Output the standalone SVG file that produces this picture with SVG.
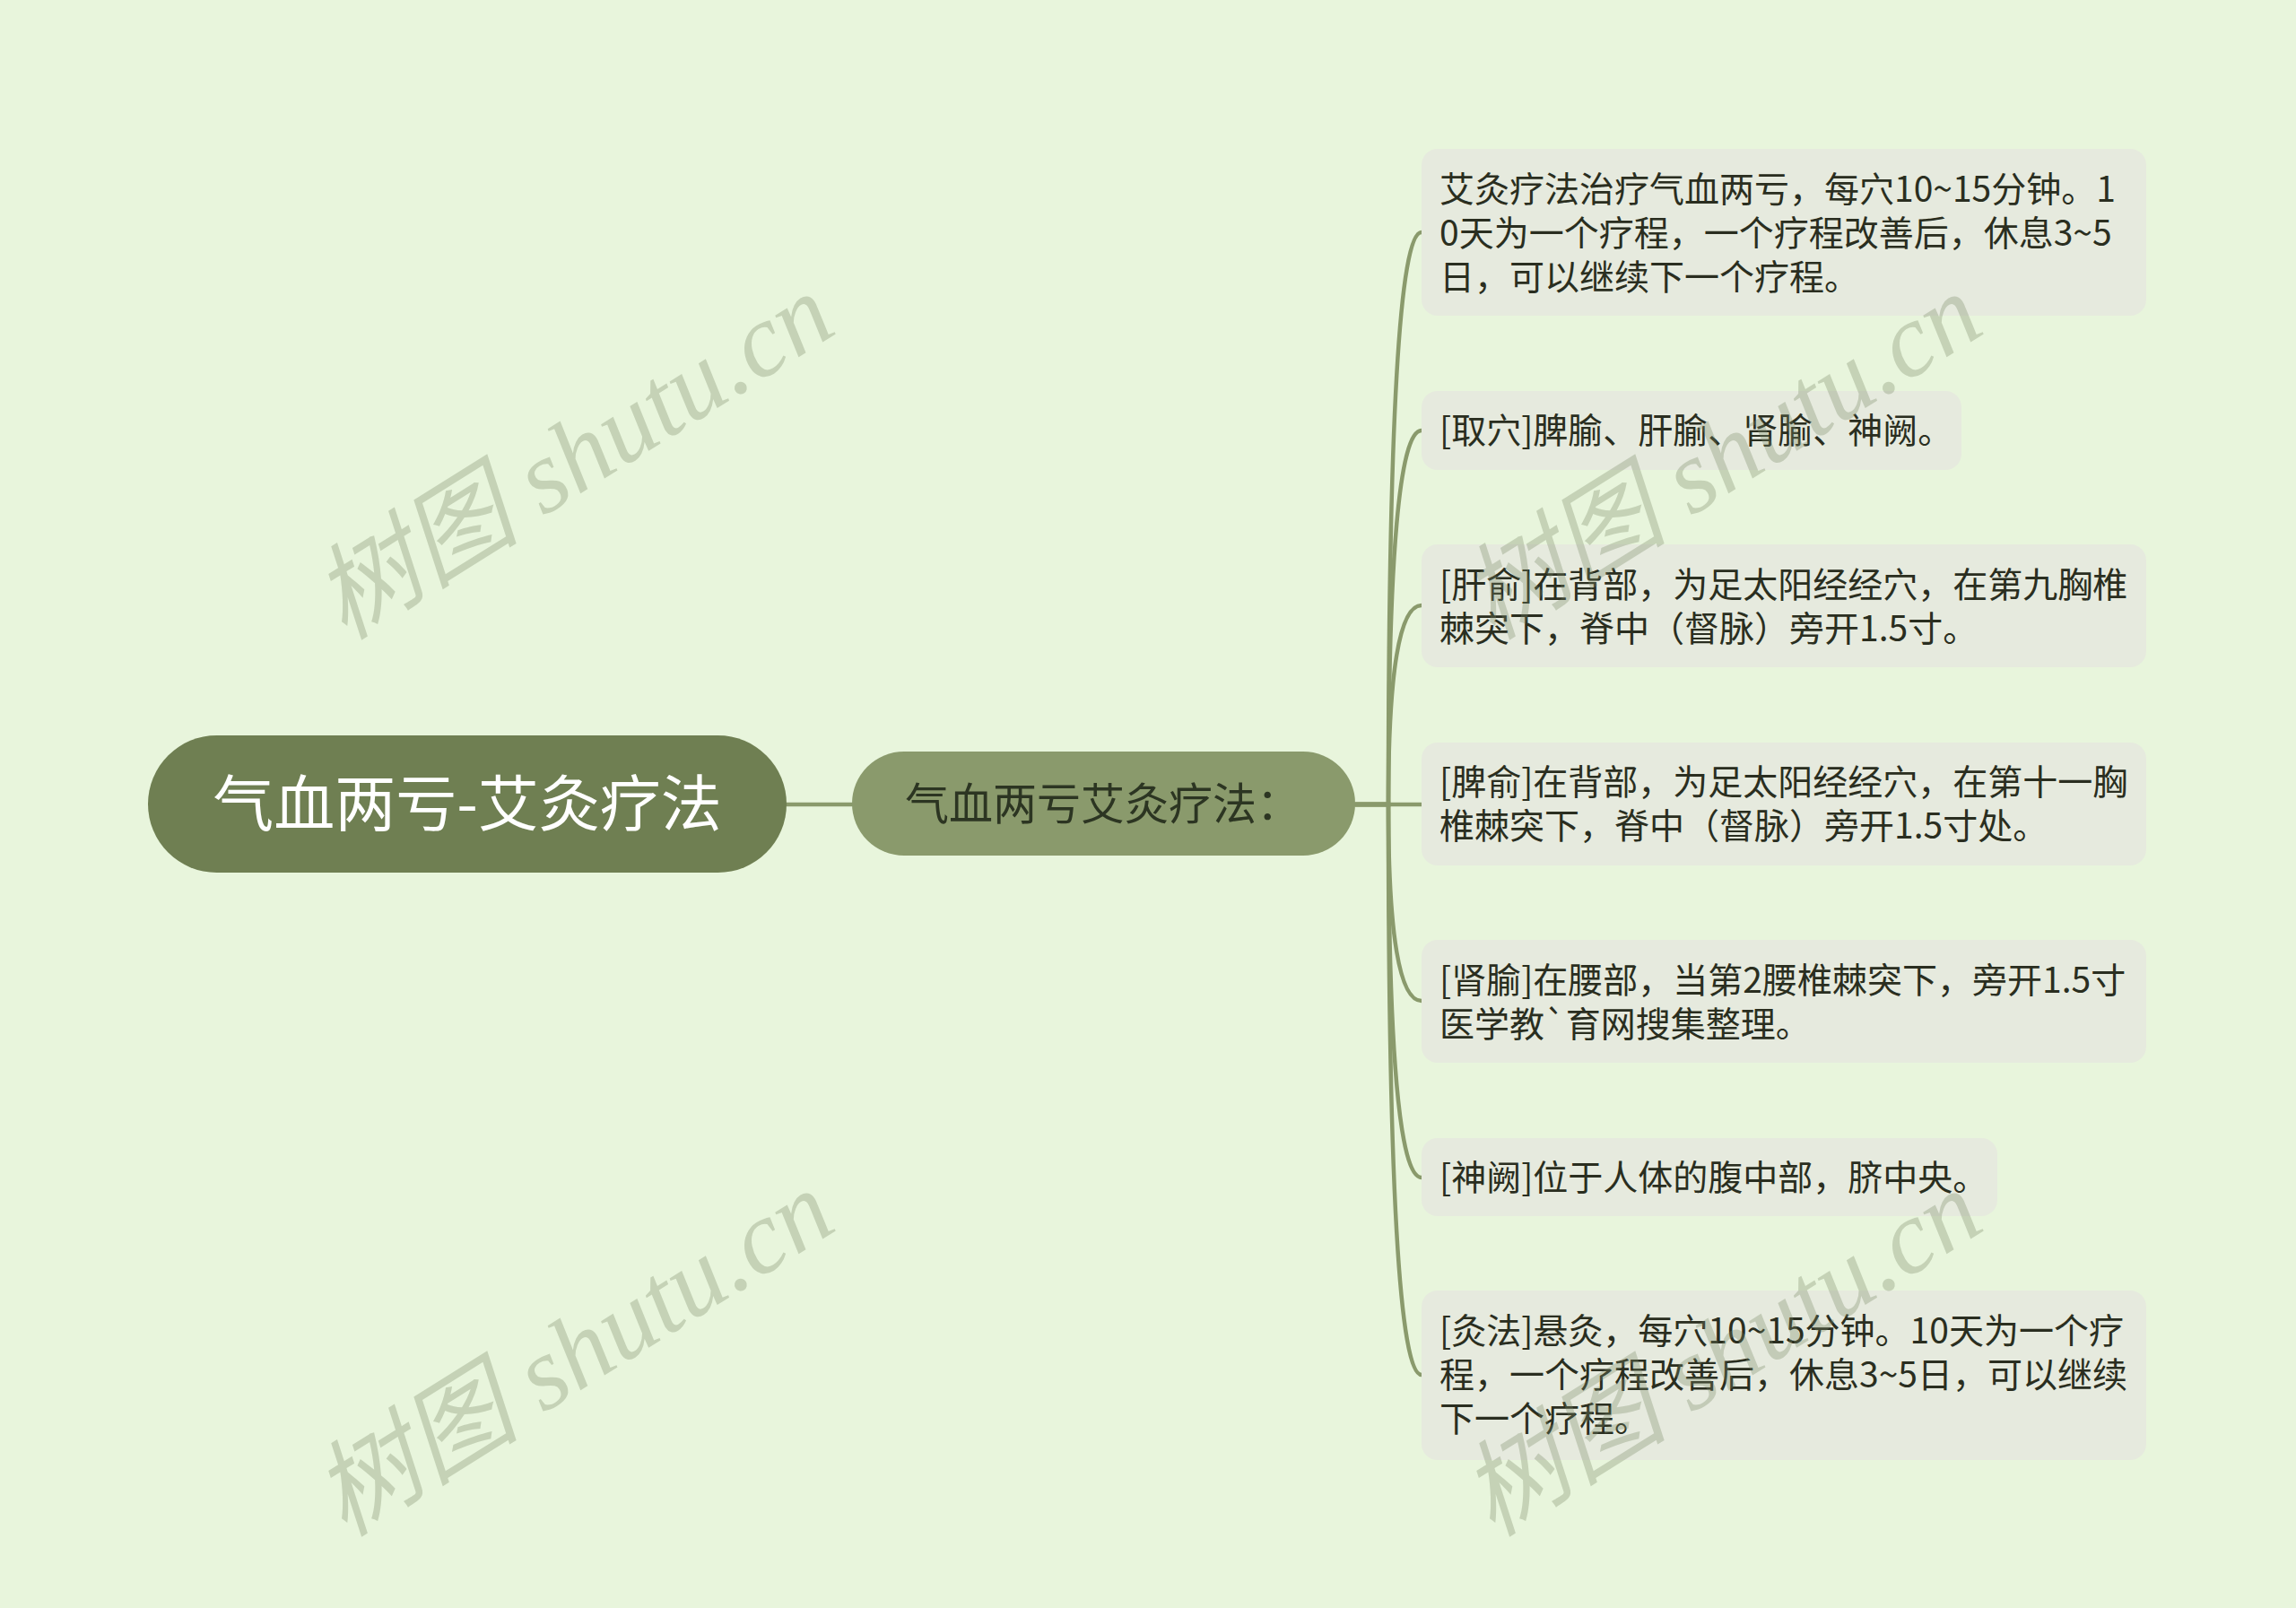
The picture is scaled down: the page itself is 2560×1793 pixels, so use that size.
<svg xmlns="http://www.w3.org/2000/svg" width="2560" height="1793" viewBox="0 0 2560 1793">
<style>
.cjk{font-family:"Noto Sans CJK SC","Noto Sans",sans-serif;}
.root-t{font-size:68px;fill:#ffffff;}
.mid-t{font-size:49px;fill:#2c3522;}
.leaf-t{font-size:39px;fill:#2a2e20;}
.leaf{fill:#e6eade;}
.conn{fill:none;stroke:#8a9a6c;stroke-width:4.5;stroke-linecap:round;}
.wm{font-family:"Liberation Serif","Noto Sans CJK SC",serif;font-size:116px;font-style:italic;fill:#788764;opacity:0.31;}
</style>
<rect x="0" y="0" width="2560" height="1793" fill="#e8f5dc"/>
<g id="connectors">
<path class="conn" d="M877 897 L950 897"/>
<path class="conn" d="M1511 897 L1548 897 Q1548 259 1585 259"/>
<path class="conn" d="M1511 897 L1548 897 Q1548 480 1585 480"/>
<path class="conn" d="M1511 897 L1548 897 Q1548 675 1585 675"/>
<path class="conn" d="M1511 897 L1585 897"/>
<path class="conn" d="M1511 897 L1548 897 Q1548 1116 1585 1116"/>
<path class="conn" d="M1511 897 L1548 897 Q1548 1313 1585 1313"/>
<path class="conn" d="M1511 897 L1548 897 Q1548 1533 1585 1533"/>
</g>
<g id="root">
<rect x="165" y="820" width="712" height="153" rx="76.5" fill="#6f7f52"/>
<text class="cjk root-t" x="521" y="921" text-anchor="middle">气血两亏-艾灸疗法</text>
</g>
<g id="mid">
<rect x="950" y="838" width="561" height="116" rx="58" fill="#8a9a6c"/>
<text class="cjk mid-t" x="1009" y="914">气血两亏艾灸疗法：</text>
</g>
<g id="leaf1">
<rect class="leaf" x="1585" y="166" width="808" height="186" rx="18"/>
<text class="cjk leaf-t" x="1605" y="225">艾灸疗法治疗气血两亏，每穴10~15分钟。1</text>
<text class="cjk leaf-t" x="1605" y="274">0天为一个疗程，一个疗程改善后，休息3~5</text>
<text class="cjk leaf-t" x="1605" y="323">日，可以继续下一个疗程。</text>
</g>
<g id="leaf2">
<rect class="leaf" x="1585" y="436" width="602" height="88" rx="18"/>
<text class="cjk leaf-t" x="1605" y="494">[取穴]脾腧、肝腧、肾腧、神阙。</text>
</g>
<g id="leaf3">
<rect class="leaf" x="1585" y="607" width="808" height="137" rx="18"/>
<text class="cjk leaf-t" x="1605" y="666">[肝俞]在背部，为足太阳经经穴，在第九胸椎</text>
<text class="cjk leaf-t" x="1605" y="715">棘突下，脊中（督脉）旁开1.5寸。</text>
</g>
<g id="leaf4">
<rect class="leaf" x="1585" y="828" width="808" height="137" rx="18"/>
<text class="cjk leaf-t" x="1605" y="886">[脾俞]在背部，为足太阳经经穴，在第十一胸</text>
<text class="cjk leaf-t" x="1605" y="935">椎棘突下，脊中（督脉）旁开1.5寸处。</text>
</g>
<g id="leaf5">
<rect class="leaf" x="1585" y="1048" width="808" height="137" rx="18"/>
<text class="cjk leaf-t" x="1605" y="1107">[肾腧]在腰部，当第2腰椎棘突下，旁开1.5寸</text>
<text class="cjk leaf-t" x="1605" y="1156">医学教`育网搜集整理。</text>
</g>
<g id="leaf6">
<rect class="leaf" x="1585" y="1269" width="642" height="87" rx="18"/>
<text class="cjk leaf-t" x="1605" y="1327">[神阙]位于人体的腹中部，脐中央。</text>
</g>
<g id="leaf7">
<rect class="leaf" x="1585" y="1439" width="808" height="189" rx="18"/>
<text class="cjk leaf-t" x="1605" y="1498">[灸法]悬灸，每穴10~15分钟。10天为一个疗</text>
<text class="cjk leaf-t" x="1605" y="1547">程，一个疗程改善后，休息3~5日，可以继续</text>
<text class="cjk leaf-t" x="1605" y="1596">下一个疗程。</text>
</g>
<g id="watermarks">
<text class="wm" x="640" y="548" text-anchor="middle" transform="rotate(-32 640 510)">树图 shutu.cn</text>
<text class="wm" x="640" y="1548" text-anchor="middle" transform="rotate(-32 640 1510)">树图 shutu.cn</text>
<text class="wm" x="1920" y="548" text-anchor="middle" transform="rotate(-32 1920 510)">树图 shutu.cn</text>
<text class="wm" x="1920" y="1548" text-anchor="middle" transform="rotate(-32 1920 1510)">树图 shutu.cn</text>
</g>
</svg>
